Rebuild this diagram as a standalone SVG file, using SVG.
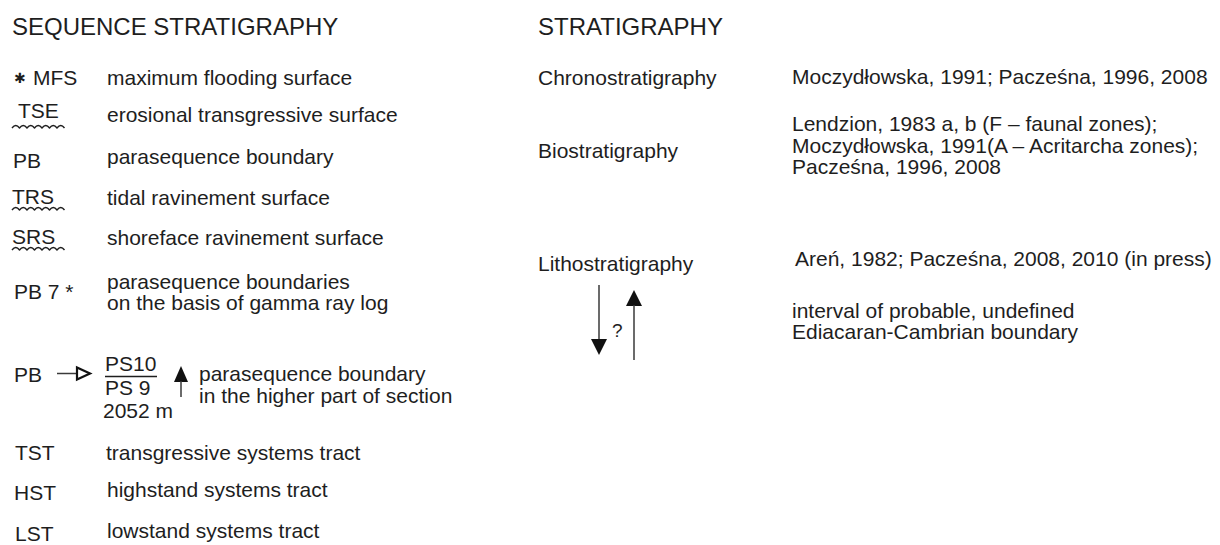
<svg xmlns="http://www.w3.org/2000/svg" width="1220" height="545" viewBox="0 0 1220 545">
  <style>
    text { font-family: "Liberation Sans", Arial, sans-serif; fill: #1e1e1e; }
    .head { font-size: 24px; }
    .t { font-size: 21px; }
    .wave { fill: none; stroke: #1e1e1e; stroke-width: 1.4; stroke-linejoin: round; }
    .shaft { stroke: #3a3a3a; stroke-width: 1.5; fill: none; }
    .head-solid { fill: #111; stroke: none; }
    .head-open { fill: #fff; stroke: #111; stroke-width: 2.2; stroke-linejoin: miter; }
  </style>
  <defs>
    <!-- wavy underline used for erosional surfaces -->
    <path id="wavy" d="M0,0 q3.75,-5 7.5,0 q3.75,-5 7.5,0 q3.75,-5 7.5,0 q3.75,-5 7.5,0 q3.75,-5 7.5,0 q3.75,-5 7.5,0 q3.75,-5 7.5,0" class="wave"/>
  </defs>

  <rect x="0" y="0" width="1220" height="545" fill="#ffffff"/>

  <!-- Left column: sequence stratigraphy -->
  <g id="seq-title">
    <text class="head" x="12" y="35">SEQUENCE STRATIGRAPHY</text>
  </g>

  <g id="seq-mfs">
    <text x="14" y="83" style="font-family:'DejaVu Sans',sans-serif;font-size:14px">✱</text>
    <text class="t" x="33" y="85">MFS</text>
    <text class="t" x="107" y="85">maximum flooding surface</text>
  </g>

  <g id="seq-tse">
    <text class="t" x="18" y="118">TSE</text>
    <use href="#wavy" x="12" y="128"/>
    <text class="t" x="107" y="122">erosional transgressive surface</text>
  </g>

  <g id="seq-pb">
    <text class="t" x="13" y="168">PB</text>
    <text class="t" x="107" y="164">parasequence boundary</text>
  </g>

  <g id="seq-trs">
    <text class="t" x="12" y="204">TRS</text>
    <use href="#wavy" x="12" y="210"/>
    <text class="t" x="107" y="205">tidal ravinement surface</text>
  </g>

  <g id="seq-srs">
    <text class="t" x="12" y="244">SRS</text>
    <use href="#wavy" x="12" y="250"/>
    <text class="t" x="107" y="245">shoreface ravinement surface</text>
  </g>

  <g id="seq-pb7">
    <text class="t" x="14" y="299">PB 7 *</text>
    <text class="t" x="107" y="289">parasequence boundaries</text>
    <text class="t" x="107" y="310">on the basis of gamma ray log</text>
  </g>

  <g id="seq-pb-section">
    <text class="t" x="14" y="382">PB</text>
    <line class="shaft" x1="57" y1="373.5" x2="76" y2="373.5"/>
    <polygon class="head-open" points="77,367.5 77,379.5 90,373.5"/>
    <text class="t" x="105" y="371">PS10</text>
    <line x1="105" y1="376.5" x2="157" y2="376.5" stroke="#1e1e1e" stroke-width="1.3"/>
    <text class="t" x="105" y="395">PS 9</text>
    <text class="t" x="103" y="418">2052 m</text>
    <polygon class="head-solid" points="174,382 188,382 181,366"/>
    <line class="shaft" x1="181" y1="381" x2="181" y2="397"/>
    <text class="t" x="199" y="381">parasequence boundary</text>
    <text class="t" x="199" y="403">in the higher part of section</text>
  </g>

  <g id="seq-tst">
    <text class="t" x="15" y="460">TST</text>
    <text class="t" x="106" y="460">transgressive systems tract</text>
  </g>

  <g id="seq-hst">
    <text class="t" x="14" y="500">HST</text>
    <text class="t" x="107" y="497">highstand systems tract</text>
  </g>

  <g id="seq-lst">
    <text class="t" x="15" y="541">LST</text>
    <text class="t" x="107" y="538">lowstand systems tract</text>
  </g>

  <!-- Right column: stratigraphy -->
  <g id="strat-title">
    <text class="head" x="538" y="35">STRATIGRAPHY</text>
  </g>

  <g id="strat-chrono">
    <text class="t" x="538" y="85">Chronostratigraphy</text>
    <text class="t" x="792" y="84">Moczydłowska, 1991; Pacześna, 1996, 2008</text>
  </g>

  <g id="strat-bio">
    <text class="t" x="538" y="158">Biostratigraphy</text>
    <text class="t" x="792" y="131">Lendzion, 1983 a, b (F – faunal zones);</text>
    <text class="t" x="792" y="153">Moczydłowska, 1991(A – Acritarcha zones);</text>
    <text class="t" x="792" y="174">Pacześna, 1996, 2008</text>
  </g>

  <g id="strat-litho">
    <text class="t" x="538" y="271">Lithostratigraphy</text>
    <text class="t" x="795" y="266">Areń, 1982; Pacześna, 2008, 2010 (in press)</text>
  </g>

  <g id="strat-boundary">
    <line class="shaft" x1="599" y1="285" x2="599" y2="340"/>
    <polygon class="head-solid" points="591,339 607,339 599,355"/>
    <text x="612" y="337" style="font-size:19px">?</text>
    <polygon class="head-solid" points="626,306 642,306 634,290"/>
    <line class="shaft" x1="634" y1="305" x2="634" y2="360"/>
    <text class="t" x="792" y="318">interval of probable, undefined</text>
    <text class="t" x="792" y="339">Ediacaran-Cambrian boundary</text>
  </g>
</svg>
